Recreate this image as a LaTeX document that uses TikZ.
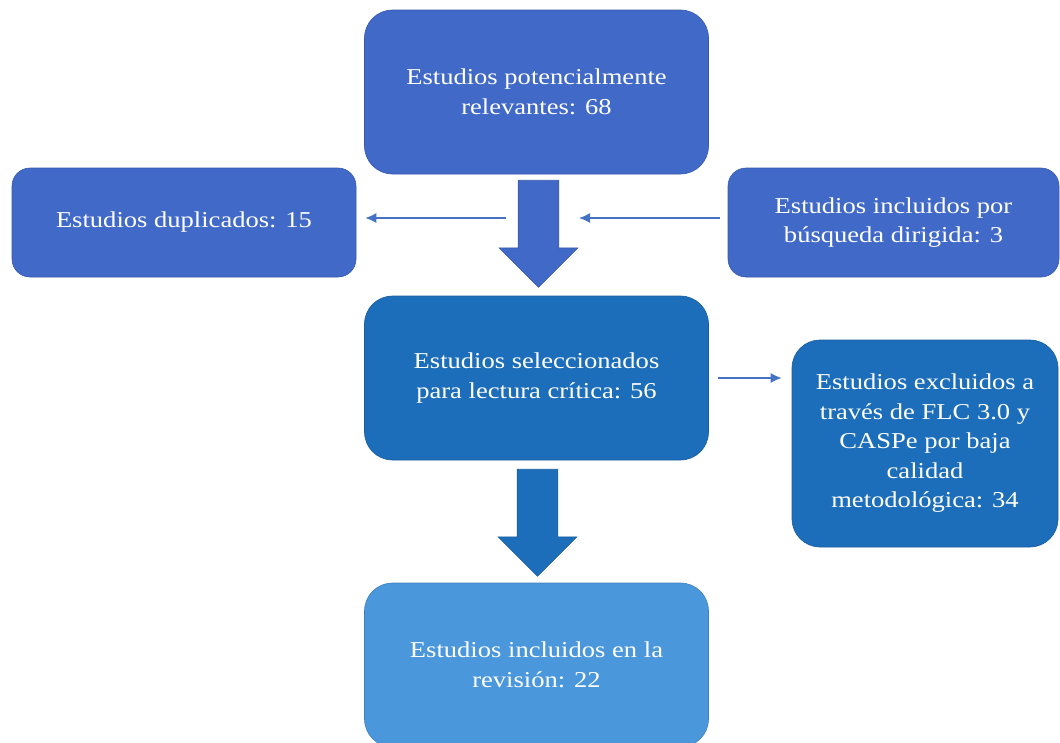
\documentclass[tikz,border=0pt]{standalone}
\usepackage{fontspec}
\setmainfont{Liberation Serif}[FakeStretch=1.17]
\usetikzlibrary{arrows.meta,calc,shapes.arrows}
\definecolor{azulA}{HTML}{4169C8}
\definecolor{azulB}{HTML}{1D6EBA}
\definecolor{azulC}{HTML}{4B97DC}
\definecolor{linea}{HTML}{4472C4}
\begin{document}
\begin{tikzpicture}[x=1pt, y=-1pt,
	box/.style={shape=rectangle, rounded corners=28pt, fill=#1, draw=#1!85!black, line width=0.6pt, text=white, align=center, inner sep=0, font=\fontsize{22.7}{29.5}\selectfont},
	flecha/.style={shape=single arrow, fill=#1, draw=#1!85!black, line width=0.6pt, minimum height=107pt, single arrow head extend=19pt, single arrow tip angle=90, inner xsep=0, inner ysep=20pt, rotate=-90, anchor=tip},
	conector/.style={->, draw=linea, line width=1.3pt},
	>={Latex[length=11pt,width=10pt]}]
				\useasboundingbox (0,0) rectangle (1060,742);
				\clip (0,0) rectangle (1060,742);
				\node[box=azulA, minimum width=344pt, minimum height=164pt] (pot) at (536.5,92) {Estudios potencialmente\\relevantes: 68};
				\node[box=azulA, rounded corners=18pt, minimum width=344pt, minimum height=109pt] (dup) at (184,222.5) {Estudios duplicados: 15};
				\node[box=azulA, rounded corners=18pt, minimum width=331pt, minimum height=109pt] (bus) at (893.5,222.5) {Estudios incluidos por\\búsqueda dirigida: 3};
				\node[box=azulB, minimum width=344pt, minimum height=164pt] (sel) at (536.5,378) {Estudios seleccionados\\para lectura crítica: 56};
				\node[box=azulB, minimum width=266pt, minimum height=207pt] (exc) at (925,443.5) {Estudios excluidos a\\través de FLC 3.0 y\\CASPe por baja\\calidad\\metodológica: 34};
				\node[box=azulC, minimum width=344pt, minimum height=164pt] (rev) at (536.5,665) {Estudios incluidos en la\\revisión: 22};
				\node[flecha=azulA] (f1) at ($(sel.north)+(2,-8)$) {};
				\node[flecha=azulB] (f2) at ($(rev.north)+(1,-6)$) {};
				\coordinate (izq) at (506,218);
				\coordinate (der) at (579,218);
				\draw[conector, shorten >=9pt] (izq) -- (izq -| dup.east);
				\draw[conector, shorten <=8pt] (bus.west |- der) -- (der);
				\draw[conector, shorten <=9pt, shorten >=10pt] (sel.east) -- (sel.east -| exc.west);
			\end{tikzpicture}
\end{document}
